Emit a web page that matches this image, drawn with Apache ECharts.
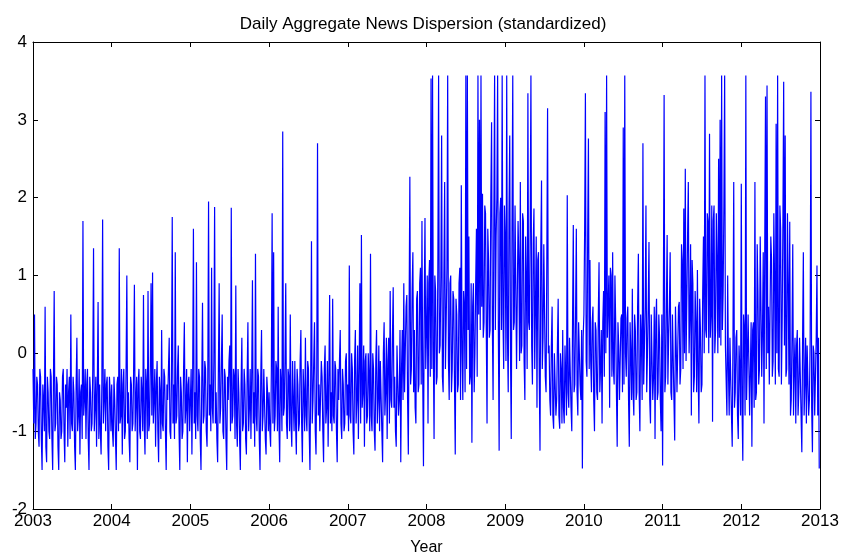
<!DOCTYPE html>
<html>
<head>
<meta charset="utf-8">
<script src="https://cdn.jsdelivr.net/npm/echarts@6/dist/echarts.min.js"></script>
<style>
  html, body { margin: 0; padding: 0; background: #fff; }
  #main { width: 846px; height: 557px; }
</style>
</head>
<body>
<div id="main"></div>
<script>
// readings of the standardized dispersion, one array per year, 52 weekly values (d)
// plus the mid-week reading (m) that fills the band between them
const years = [2003, 2004, 2005, 2006, 2007, 2008, 2009, 2010, 2011, 2012]
const d2003 = [-0.2, 0.5, -0.9, -0.4, -1.2, -0.3, -1.5, -0.6, 0.6, -1.4, -0.5, -1.1, -0.3, -1.5, 0.8, -0.9, -0.4, -1.5, -0.6, -1.0, -0.2, -1.4, -0.7, -1.2, -0.3, 0.5, -1.0, -0.5, -1.5, 0.2, -0.8, -1.3, -0.4, 1.7, -0.6, -1.1, -0.2, -1.5, -0.5, -0.9, 1.35, -0.7, -1.2, 0.66, -0.4, -1.3, 1.72, -0.6, -1.0, -0.3, -1.5, -0.5]
const m2003 = [-0.9, -1.1, -0.3, -1.0, -0.2, -1.1, -0.4, -1.0, -1.2, -0.3, -1.0, -0.2, -1.1, -0.4, -1.0, -0.3, -1.2, -0.5, -1.1, -0.3, -1.0, -0.4, -0.2, -0.5, -1.1, -0.9, -0.3, -1.2, -0.4, -1.0, -0.2, -0.5, -1.1, -0.8, -0.2, -0.4, -1.1, -0.3, -1.0, -0.2, -1.0, -0.3, -0.4, -1.1, -1.0, -0.4, -0.9, -0.2, -0.4, -1.2, -0.3, -1.0]
const d2004 = [-0.4, -1.2, -0.6, -1.5, -0.3, 1.35, -0.8, -1.3, -0.2, -1.0, 1.0, -0.5, -1.4, -0.4, -0.9, 0.88, -0.6, -1.5, -0.2, -1.1, -0.5, 0.75, -1.3, -0.4, 0.8, -0.9, 0.9, 1.04, -0.6, -1.2, -0.1, -1.4, -0.5, 0.3, -1.0, -0.3, -1.5, -0.6, 0.2, -1.1, 1.75, -0.4, 1.3, -0.8, 0.1, -1.5, -0.5, -1.0, 0.4, -0.7, -1.4, -0.3]
const m2004 = [-1.0, -0.3, -1.1, -0.4, -1.0, -0.9, -0.2, -0.4, -1.1, -0.2, -0.9, -1.1, -0.3, -1.0, -0.2, -1.0, -0.3, -0.4, -1.0, -0.3, -1.0, -0.9, -0.2, -1.1, -1.0, -0.2, -0.8, -0.9, -0.2, -0.4, -1.0, -0.3, -1.1, -0.9, -0.2, -1.0, -0.4, -0.2, -1.0, -0.3, -0.9, -1.1, -0.9, -0.2, -1.0, -0.3, -1.1, -0.2, -0.9, -0.2, -0.4, -1.0]
const d2005 = [-0.6, -1.3, 1.6, -0.5, 1.17, -1.0, -0.3, -1.5, 0.65, -0.8, -0.2, -1.2, 1.95, -0.4, 1.1, -0.9, 1.88, -0.5, -1.4, 0.9, -0.7, 0.5, -1.1, -0.3, -1.5, -0.6, 0.1, 1.87, -0.8, -0.3, 0.87, -1.2, -0.5, -1.5, 0.2, -0.9, -0.4, -1.3, 0.4, -0.7, -1.1, 0.94, -0.5, 1.28, -1.0, -0.3, -1.5, 0.3, -0.8, -0.2, -1.3, -0.5]
const m2005 = [-0.2, -0.3, -0.9, -1.1, -0.8, -0.2, -1.1, -0.4, -0.9, -0.1, -1.0, -0.3, -0.8, -1.0, -0.7, -0.1, -0.9, -1.1, -0.2, -0.9, -0.1, -1.0, -0.2, -1.1, -0.3, -0.1, -1.0, -0.9, -0.2, -1.1, -0.9, -0.2, -1.1, -0.4, -1.0, -0.2, -1.1, -0.3, -1.0, -0.2, -0.3, -0.9, -1.2, -0.8, -0.2, -1.1, -0.3, -1.0, -0.2, -1.1, -0.3, -1.0]
const d2006 = [-0.5, -1.2, 1.8, 1.3, -0.8, -0.2, 0.6, -1.4, -0.4, 2.85, -0.7, 0.9, -1.1, -0.3, 0.5, -1.2, -0.6, -0.1, -1.3, -0.4, -0.9, 0.3, -1.4, -0.5, 0.2, -1.0, -0.2, -1.5, 1.44, -0.6, 0.4, -1.3, 2.7, -0.4, -1.0, -0.3, -1.4, 0.1, -0.7, -1.2, 0.75, -0.5, 0.7, -0.9, -0.2, -1.4, -0.6, 0.3, -1.1, -0.4, -0.9, 0.0]
const m2006 = [-1.0, -0.2, -0.9, -1.0, -0.1, -1.0, -0.9, -0.2, -1.0, -0.8, -0.1, -0.9, -0.2, -1.0, -0.9, -0.1, -1.0, -0.9, -0.2, -1.0, -0.1, -0.9, -0.2, -1.0, -0.8, -0.1, -1.0, -0.3, -0.9, -0.1, -1.0, -0.2, -0.8, -1.0, -0.1, -1.0, -0.2, -0.9, -0.1, -0.3, -0.9, -1.0, -0.8, -0.1, -1.0, -0.2, -0.1, -0.9, -0.2, -1.0, -0.1, -0.8]
const d2007 = [-0.4, 1.13, -0.9, -0.2, -1.3, 0.3, -0.6, -1.1, 0.9, 1.52, -0.5, -1.2, 0.0, -0.8, -0.3, 1.28, -1.0, -0.2, -1.25, 0.3, -0.6, -1.0, -0.1, -1.4, 0.4, -0.5, -1.1, 0.2, 0.8, -0.7, 0.85, -0.3, -1.2, 0.1, -0.6, -1.4, 0.3, 0.9, -0.5, 0.75, -1.3, 2.27, -0.2, 1.3, 0.3, -0.9, 0.8, -0.4, 1.1, 1.7, -1.45, 1.74]
const m2007 = [-1.0, -0.8, 0.0, -1.0, -0.1, -0.9, 0.1, -0.2, -0.9, -0.7, 0.1, -0.1, -0.9, 0.0, -1.0, -0.8, 0.0, -1.0, -0.1, -0.9, 0.1, -0.1, -1.0, 0.0, -0.8, 0.2, -0.1, -0.9, -0.6, 0.2, -0.7, -1.0, 0.1, -0.8, 0.3, -0.2, -0.6, -0.5, 0.6, -0.6, 0.5, -0.4, 0.8, -0.5, -0.7, 0.7, -0.5, 0.9, -0.4, -0.3, 0.6, -0.2]
const d2008 = [0.3, -0.9, 1.2, 3.53, 3.57, -1.1, 0.8, -0.3, 3.57, 0.1, 2.8, -0.5, 2.2, 0.4, 3.57, -0.6, 1.0, -0.2, 0.7, -1.3, 0.5, -0.4, 1.1, 2.16, -0.6, 0.6, 3.57, 3.57, 1.5, -0.3, -1.15, 0.9, 0.0, 1.6, 3.57, 3.0, 3.57, 2.05, 0.4, 1.8, -0.9, 1.2, 0.3, 2.97, -0.6, 3.57, 1.5, 3.57, -1.25, 2.0, 3.57, -0.2]
const m2008 = [1.0, 0.9, -0.3, -0.2, 0.1, 1.0, -0.4, 1.1, 0.0, 1.0, -0.3, 1.0, -0.2, 1.1, -0.1, 0.9, -0.5, 0.8, -0.4, 0.7, -0.5, 0.9, -0.6, 0.0, 0.8, -0.5, -0.2, 0.3, -0.4, 0.9, 0.6, -0.5, 0.9, -0.3, 0.5, 0.3, 0.6, 0.2, 1.9, 0.3, 1.6, 0.2, 2.0, 0.4, 1.7, 0.3, 2.0, 0.2, 1.8, 0.3, 0.5, 1.9]
const d2009 = [1.5, 3.57, -0.5, 2.8, -1.1, 3.57, 0.4, 1.9, -0.2, 1.2, 2.2, 0.1, 1.7, -0.6, 0.9, 3.34, 0.3, 3.57, -0.4, 1.86, 0.6, -0.7, 1.3, -1.25, 2.22, 0.2, 1.4, -0.5, 3.15, 0.1, -0.8, 0.6, -0.97, 0.0, -0.6, 0.7, -0.97, -0.2, 0.3, -0.9, -0.3, 2.03, -0.7, 0.2, -1.0, 1.65, -0.4, 1.6, -0.8, 0.4, -0.6, -1.48]
const m2009 = [-0.1, 0.2, 1.8, 0.0, 1.6, 0.3, 1.9, -0.2, 1.7, -0.1, 0.0, 1.8, -0.1, 1.5, -0.2, 0.4, 1.6, 0.1, 1.4, -0.2, 1.5, 1.2, -0.3, 1.3, -0.2, 1.4, -0.3, 1.2, 0.0, -0.6, 0.1, -0.8, 0.0, -0.8, 0.1, -0.8, 0.0, -0.9, -0.7, 0.1, -0.8, -0.5, 0.2, -0.7, 0.4, -0.5, 0.5, -0.5, 0.4, -0.4, 0.3, 0.2]
const d2010 = [0.5, 3.34, -0.3, 2.76, 1.2, -0.5, 0.6, -1.0, 0.3, -0.6, 1.17, -0.2, -0.9, 0.8, 3.1, 3.57, 0.2, -0.7, 1.0, 1.3, -0.4, 0.4, -1.2, 0.1, -0.6, 0.5, 2.9, 3.57, -0.3, 0.6, -1.2, 0.0, 0.83, -0.8, 0.3, -0.5, 1.28, -1.0, 0.2, 2.7, -0.4, 1.9, 0.0, 1.43, -0.9, 0.5, -0.3, -1.1, 0.7, -0.5, 0.2, -1.0]
const m2010 = [1.6, -0.1, 1.5, -0.2, -0.1, 0.4, -0.6, 0.4, -0.5, 0.45, -0.5, 0.3, 0.4, -0.3, 0.0, 0.2, 1.0, 1.1, -0.3, -0.2, 1.0, -0.5, 0.4, -0.6, 0.45, -0.5, -0.4, 0.0, 0.45, -0.6, 0.4, -0.6, -0.5, 0.5, -0.6, 0.6, -0.5, 0.5, -0.6, -0.4, 0.6, -0.5, 0.6, -0.6, 0.5, -0.6, 0.6, 0.4, -0.6, 0.5, -0.6, 0.5]
const d2011 = [-1.44, 3.32, -0.3, 1.52, 0.2, 1.3, -0.6, 0.5, -1.12, 0.1, -0.5, 0.66, -0.2, 1.2, 1.86, 2.37, -0.1, 2.2, 0.5, -0.8, 0.9, -0.3, 0.4, 1.07, -0.9, 0.3, -0.4, 1.5, 3.57, 0.2, 1.7, 2.82, 0.5, -0.88, 1.9, 0.3, 1.2, 2.5, 3.0, 3.57, 0.8, 3.57, 0.1, 1.0, -0.8, 0.2, -1.2, 2.2, -0.5, 0.3, -1.1, -0.2]
const m2011 = [0.6, -0.5, 0.6, -0.4, 0.6, -0.5, 0.5, -0.6, 0.6, -0.5, 0.6, -0.4, 1.4, -0.2, 0.0, -0.1, 1.5, 0.0, 1.4, 1.2, -0.5, 0.8, -0.5, -0.3, 0.7, -0.5, 0.8, 0.0, 0.3, 1.8, 0.0, 0.2, 1.9, 1.7, 0.0, 1.8, 0.0, 0.2, 0.1, 0.3, 1.9, 0.1, -0.8, -0.2, 0.2, -0.8, 0.2, -0.7, 0.2, -0.8, 0.1, -0.8]
const d2012 = [2.18, -1.38, 0.3, 3.57, -0.6, 0.5, -0.2, -1.2, 0.4, 2.2, -0.5, 0.8, -0.2, 1.5, 0.3, -0.9, 3.3, 3.44, 0.6, -0.4, 1.2, -0.1, 0.9, 2.95, 3.57, -0.3, 1.6, 0.4, 3.49, 2.8, -0.2, 0.9, 1.69, -0.6, 1.4, -0.2, -0.9, 0.3, -0.5, 0.2, -1.27, 1.3, -0.4, -0.9, 0.1, -0.6, 3.36, -1.27, 0.0, -0.8, 1.13, 0.2]
const m2012 = [-0.7, 0.5, -0.8, -0.6, 0.5, -0.8, 0.4, 0.3, -0.7, -0.6, 1.4, -0.4, 1.5, -0.3, 1.3, 1.4, -0.2, 0.0, -0.4, 1.5, -0.3, 1.8, -0.4, 0.0, -0.2, 1.9, -0.4, 1.7, 0.1, -0.3, 1.8, -0.4, -0.8, 0.2, -0.8, 0.2, 0.1, -0.8, 0.2, -0.8, 0.2, -0.8, 0.2, 0.1, -0.8, 0.2, -0.7, 0.1, -0.8, 0.2, -0.8, -1.48]
const yTicks = [-2, -1, 0, 1, 2, 3, 4]

const weekly = [d2003, d2004, d2005, d2006, d2007, d2008, d2009, d2010, d2011, d2012]
const midweek = [m2003, m2004, m2005, m2006, m2007, m2008, m2009, m2010, m2011, m2012]
const points = []
weekly.forEach((arr, k) => {
  const n = arr.length
  arr.forEach((v, i) => {
    points.push([years[k] + i / n, v])
    points.push([years[k] + (i + 0.5) / n, midweek[k][i]])
  })
})

const chart = echarts.init(document.getElementById('main'))
const font = 'Liberation Sans, Arial, sans-serif'
const boxAxis = {
  axisLine: { show: true, onZero: false, lineStyle: { color: '#000', width: 1 } },
  axisTick: { show: true, inside: true, length: 5, lineStyle: { color: '#000' } },
  splitLine: { show: false },
}

chart.setOption({
  animation: false,
  backgroundColor: '#fff',
  title: {
    text: 'Daily Aggregate News Dispersion (standardized)',
    left: 'center',
    top: 11,
    textStyle: { fontFamily: font, fontSize: 17, fontWeight: 'normal', color: '#000' },
  },
  grid: { left: 33, right: 26, top: 42, bottom: 48, containLabel: false, outerBoundsMode: 'none' },
  xAxis: [
    {
      type: 'value',
      min: 2003,
      max: 2013,
      interval: 1,
      name: 'Year',
      nameLocation: 'middle',
      nameGap: 31,
      nameTextStyle: { fontFamily: font, fontSize: 16, color: '#000' },
      axisLabel: {
        fontFamily: font, fontSize: 17, color: '#000', margin: 4,
        formatter: (v) => String(v),
      },
      ...boxAxis,
    },
    { type: 'value', min: 2003, max: 2013, interval: 1, position: 'top', axisLabel: { show: false }, ...boxAxis },
  ],
  yAxis: [
    {
      type: 'value',
      min: yTicks[0],
      max: yTicks[yTicks.length - 1],
      interval: 1,
      axisLabel: { fontFamily: font, fontSize: 17, color: '#000', margin: 6 },
      ...boxAxis,
    },
    {
      type: 'value',
      min: yTicks[0],
      max: yTicks[yTicks.length - 1],
      interval: 1,
      position: 'right',
      axisLabel: { show: false },
      ...boxAxis,
    },
  ],
  series: [
    {
      type: 'line',
      data: points,
      showSymbol: false,
      lineStyle: { color: '#0000ff', width: 1.2 },
    },
  ],
})
</script>
</body>
</html>
